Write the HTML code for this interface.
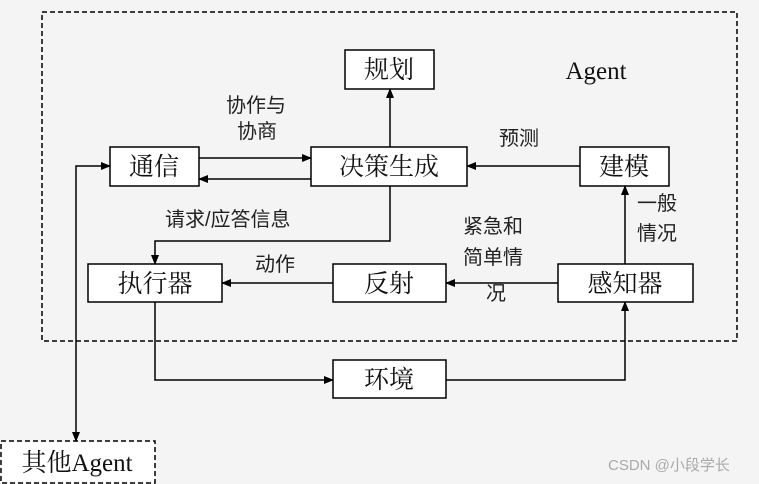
<!DOCTYPE html>
<html><head><meta charset="utf-8"><style>
body{margin:0;background:#f4f4f4}
svg{display:block}
.b{font-family:"Liberation Serif","Noto Serif CJK SC",serif;font-size:25px;fill:#111}
.l{font-family:"Liberation Sans","Noto Sans CJK SC",sans-serif;font-size:20px;fill:#222}
</style></head><body>
<svg width="759" height="484" viewBox="0 0 759 484">
<defs><marker id="a" markerWidth="10" markerHeight="10" refX="9" refY="5" orient="auto" markerUnits="userSpaceOnUse"><path d="M0,1 L10,5 L0,9z" fill="#000"/></marker></defs>
<rect x="42" y="12" width="695" height="329" fill="none" stroke="#000" stroke-width="1.5" stroke-dasharray="5,3"/>
<rect x="1" y="441" width="154" height="42" fill="#fff" stroke="#000" stroke-width="1.5" stroke-dasharray="5,3"/>
<g fill="#fff" stroke="#000" stroke-width="1.5">
<rect x="345" y="50" width="89" height="39"/>
<rect x="110" y="147" width="89" height="39"/>
<rect x="311" y="147" width="156" height="39"/>
<rect x="580" y="147" width="89" height="39"/>
<rect x="88" y="264" width="134" height="38"/>
<rect x="333" y="264" width="113" height="38"/>
<rect x="558" y="264" width="135" height="38"/>
<rect x="333" y="360" width="113" height="38"/>
</g>
<g stroke="#000" stroke-width="1.5" fill="none" marker-end="url(#a)">
<path d="M199,158 H311"/>
<path d="M311,179 H199"/>
<path d="M390,147 V89"/>
<path d="M580,166 H467"/>
<path d="M625,264 V186"/>
<path d="M390,186 V241 H155 V264"/>
<path d="M558,283 H446"/>
<path d="M333,283 H222"/>
<path d="M155,302 V380 H333"/>
<path d="M446,380 H625 V302"/>
<path d="M76,300 V166 H110"/>
<path d="M76,300 V441"/>
</g>
<g class="b" text-anchor="middle">
<text x="389" y="78">规划</text>
<text x="154" y="175">通信</text>
<text x="389" y="175">决策生成</text>
<text x="624" y="175">建模</text>
<text x="155" y="292">执行器</text>
<text x="389" y="292">反射</text>
<text x="625" y="292">感知器</text>
<text x="389" y="388">环境</text>
<text x="596" y="79">Agent</text>
<text x="77" y="471">其他Agent</text>
</g>
<g class="l">
<text x="226" y="112">协作与</text>
<text x="237" y="138">协商</text>
<text x="499" y="145">预测</text>
<text x="165" y="226">请求/应答信息</text>
<text x="255" y="271">动作</text>
<text x="463" y="233">紧急和</text>
<text x="463" y="264">简单情</text>
<text x="486" y="300">况</text>
<text x="637" y="210">一般</text>
<text x="637" y="240">情况</text>
</g>
<text x="608" y="470" font-family="Liberation Sans,Noto Sans CJK SC,sans-serif" font-size="15" fill="#aaa">CSDN @小段学长</text>
</svg>
</body></html>
